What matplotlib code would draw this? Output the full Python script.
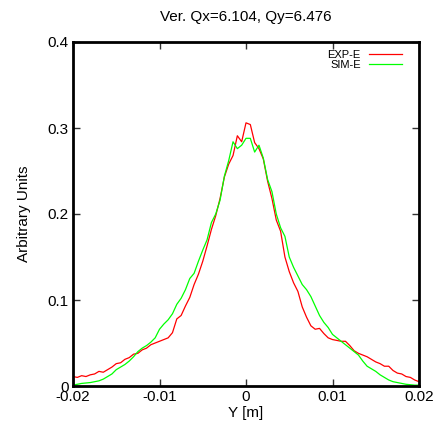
import numpy as np
import matplotlib
matplotlib.use("Agg")
import matplotlib.pyplot as plt

plt.rcParams['font.family'] = ['Liberation Sans', 'DejaVu Sans']

x_exp = np.round(np.arange(-0.02, 0.02001, 0.0005), 5)
y_exp = [0.011, 0.010, 0.012, 0.011, 0.013, 0.014, 0.017, 0.016, 0.019, 0.022,
         0.026, 0.027, 0.031, 0.033, 0.037, 0.038, 0.042, 0.044, 0.048, 0.050,
         0.052, 0.054, 0.056, 0.062, 0.078, 0.082, 0.093, 0.103, 0.118, 0.130,
         0.145, 0.163, 0.182, 0.198, 0.218, 0.243, 0.258, 0.268, 0.291, 0.284,
         0.306, 0.304, 0.283, 0.276, 0.264, 0.238, 0.218, 0.193, 0.180, 0.150,
         0.133, 0.120, 0.110, 0.092, 0.080, 0.070, 0.066, 0.067, 0.061, 0.056,
         0.054, 0.053, 0.052, 0.052, 0.047, 0.041, 0.038, 0.036, 0.034, 0.031,
         0.028, 0.026, 0.023, 0.023, 0.018, 0.015, 0.014, 0.011, 0.010, 0.007,
         0.005]

x_sim = np.round(np.arange(-0.02, 0.02001, 0.0005), 5)
y_sim = [0.001, 0.002, 0.003, 0.0035, 0.004, 0.005, 0.006, 0.008, 0.011, 0.014,
         0.019, 0.022, 0.025, 0.029, 0.034, 0.040, 0.044, 0.047, 0.051, 0.056,
         0.066, 0.072, 0.077, 0.084, 0.095, 0.102, 0.112, 0.125, 0.131, 0.145,
         0.158, 0.170, 0.190, 0.200, 0.216, 0.244, 0.262, 0.284, 0.276, 0.280,
         0.288, 0.288, 0.272, 0.280, 0.265, 0.240, 0.226, 0.200, 0.184, 0.174,
         0.150, 0.138, 0.128, 0.118, 0.112, 0.104, 0.093, 0.082, 0.074, 0.068,
         0.060, 0.056, 0.052, 0.048, 0.044, 0.040, 0.036, 0.029, 0.023, 0.020,
         0.017, 0.013, 0.010, 0.007, 0.005, 0.004, 0.003, 0.002, 0.0015, 0.001,
         0.001]

x_ticks = [-0.02, -0.01, 0, 0.01, 0.02]
x_tick_labels = ['-0.02', '-0.01', '0', '0.01', '0.02']
y_ticks = [0, 0.1, 0.2, 0.3, 0.4]
y_tick_labels = ['0', '0.1', '0.2', '0.3', '0.4']

fig = plt.figure(figsize=(4.37, 4.24), dpi=100)
ax = fig.add_axes([73/437, 38/424, 346/437, 344/424])

ax.plot(x_exp, y_exp, color='#ff0000', lw=0.9, label='EXP-E')
ax.plot(x_sim, y_sim, color='#00ff00', lw=0.9, label='SIM-E')

ax.set_xlim(-0.02, 0.02)
ax.set_ylim(0, 0.4)
ax.set_xticks(x_ticks)
ax.set_xticklabels(x_tick_labels)
ax.set_yticks(y_ticks)
ax.set_yticklabels(y_tick_labels)
ax.tick_params(direction='in', length=5, width=1, top=True, right=True,
               labelsize=11, pad=3, color='#333333')
for s in ax.spines.values():
    s.set_linewidth(2)

ax.set_xlabel('Y [m]', fontsize=11, labelpad=1)
ax.set_ylabel('Arbitrary Units', fontsize=11, labelpad=12)
ax.set_title('Ver. Qx=6.104, Qy=6.476', fontsize=11, pad=15)

leg = ax.legend(loc='upper right', bbox_to_anchor=(0.957, 0.983),
                frameon=False, fontsize=8,
                markerfirst=False, handlelength=3.0, handletextpad=0.7,
                borderaxespad=0.0, borderpad=0.2, labelspacing=0.0)

fig.savefig('out.png', dpi=100)
